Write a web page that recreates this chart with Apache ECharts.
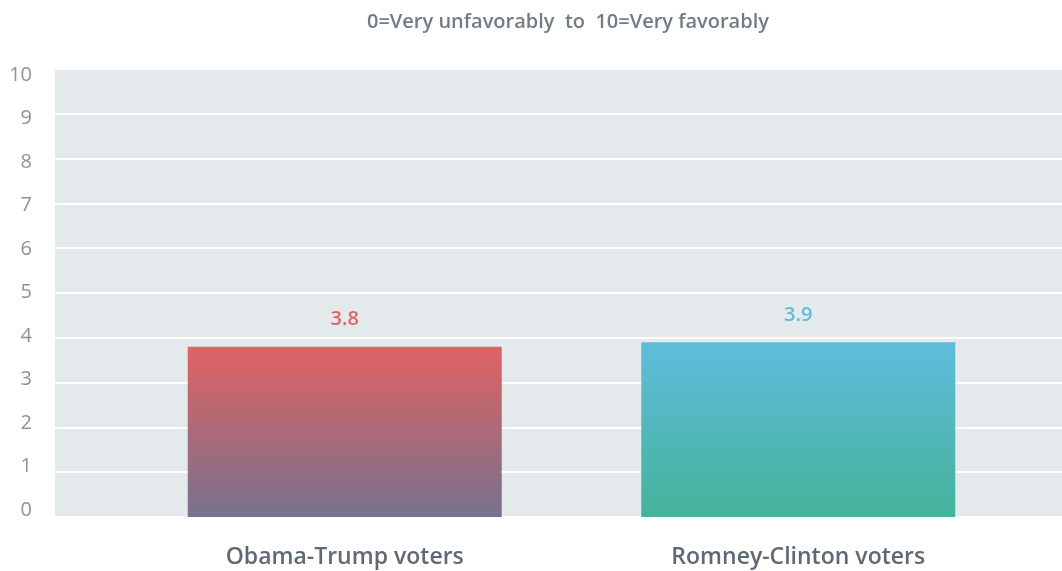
<!DOCTYPE html>
<html>
<head>
<meta charset="utf-8">
<script src="https://cdn.jsdelivr.net/npm/echarts@6/dist/echarts.min.js"></script>
<style>
  html, body { margin: 0; padding: 0; background: #ffffff; }
  #chart { width: 1062px; height: 571px; }
</style>
</head>
<body>
<div id="chart"></div>
<script>
// Favorability ratings of Hillary Clinton on a 0–10 scale
const titleText = '0=Very unfavorably  to  10=Very favorably';
const categories = ['Obama-Trump voters', 'Romney-Clinton voters'];
const values = [3.8, 3.9];
const yTicks = ['0', '1', '2', '3', '4', '5', '6', '7', '8', '9', '10'];

const barColors = [
  { top: '#e06262', bottom: '#78718e', label: '#e06464' },
  { top: '#60bcdc', bottom: '#44b39a', label: '#5fbcdc' }
];

const FONT = '"Open Sans", "Noto Sans", sans-serif';

const chart = echarts.init(document.getElementById('chart'), null, { renderer: 'canvas' });

chart.setOption({
  animation: false,
  backgroundColor: '#ffffff',
  title: {
    text: titleText,
    left: 362,
    top: 7,
    textStyle: { fontFamily: FONT, fontSize: 20, fontWeight: 600, color: '#727c86' }
  },
  grid: [
    // panel with background and gridlines
    { left: 55, right: 0, top: 69, bottom: 54, show: true, backgroundColor: '#e4e9ec', borderWidth: 0 },
    // bars
    { left: 118, right: 37, top: 69, bottom: 54 },
    // tick labels
    { left: 55, right: 0, top: 75, bottom: 61 }
  ],
  xAxis: [
    { gridIndex: 0, type: 'category', data: categories, show: false },
    {
      gridIndex: 1,
      type: 'category',
      data: categories,
      axisLine: { show: false },
      axisTick: { show: false },
      axisLabel: { margin: 29, fontFamily: FONT, fontSize: 23, fontWeight: 600, color: '#5f6974' }
    },
    { gridIndex: 2, type: 'category', data: categories, show: false }
  ],
  yAxis: [
    {
      gridIndex: 0, type: 'value', min: 0, max: 10, interval: 1,
      axisLine: { show: false }, axisTick: { show: false }, axisLabel: { show: false },
      splitLine: { show: true, lineStyle: { color: '#ffffff', width: 2 } }
    },
    {
      gridIndex: 1, type: 'value', min: 0, max: 10, interval: 1, show: false,
      splitLine: { show: false }
    },
    {
      gridIndex: 2, type: 'category', data: yTicks, boundaryGap: false,
      axisLine: { show: false }, axisTick: { show: false },
      splitLine: { show: false },
      axisLabel: { margin: 23, fontFamily: FONT, fontSize: 20, color: '#8a939c' }
    }
  ],
  series: [{
    type: 'bar',
    xAxisIndex: 1,
    yAxisIndex: 1,
    barWidth: 314,
    data: values.map((v, i) => ({
      value: v,
      itemStyle: {
        color: new echarts.graphic.LinearGradient(0, 0, 0, 1, [
          { offset: 0, color: barColors[i].top },
          { offset: 1, color: barColors[i].bottom }
        ])
      },
      label: { color: barColors[i].label }
    })),
    label: {
      show: true,
      position: 'top',
      distance: 17,
      fontFamily: FONT,
      fontSize: 20,
      fontWeight: 600,
      formatter: p => p.value.toFixed(1)
    }
  }]
});
</script>
</body>
</html>
